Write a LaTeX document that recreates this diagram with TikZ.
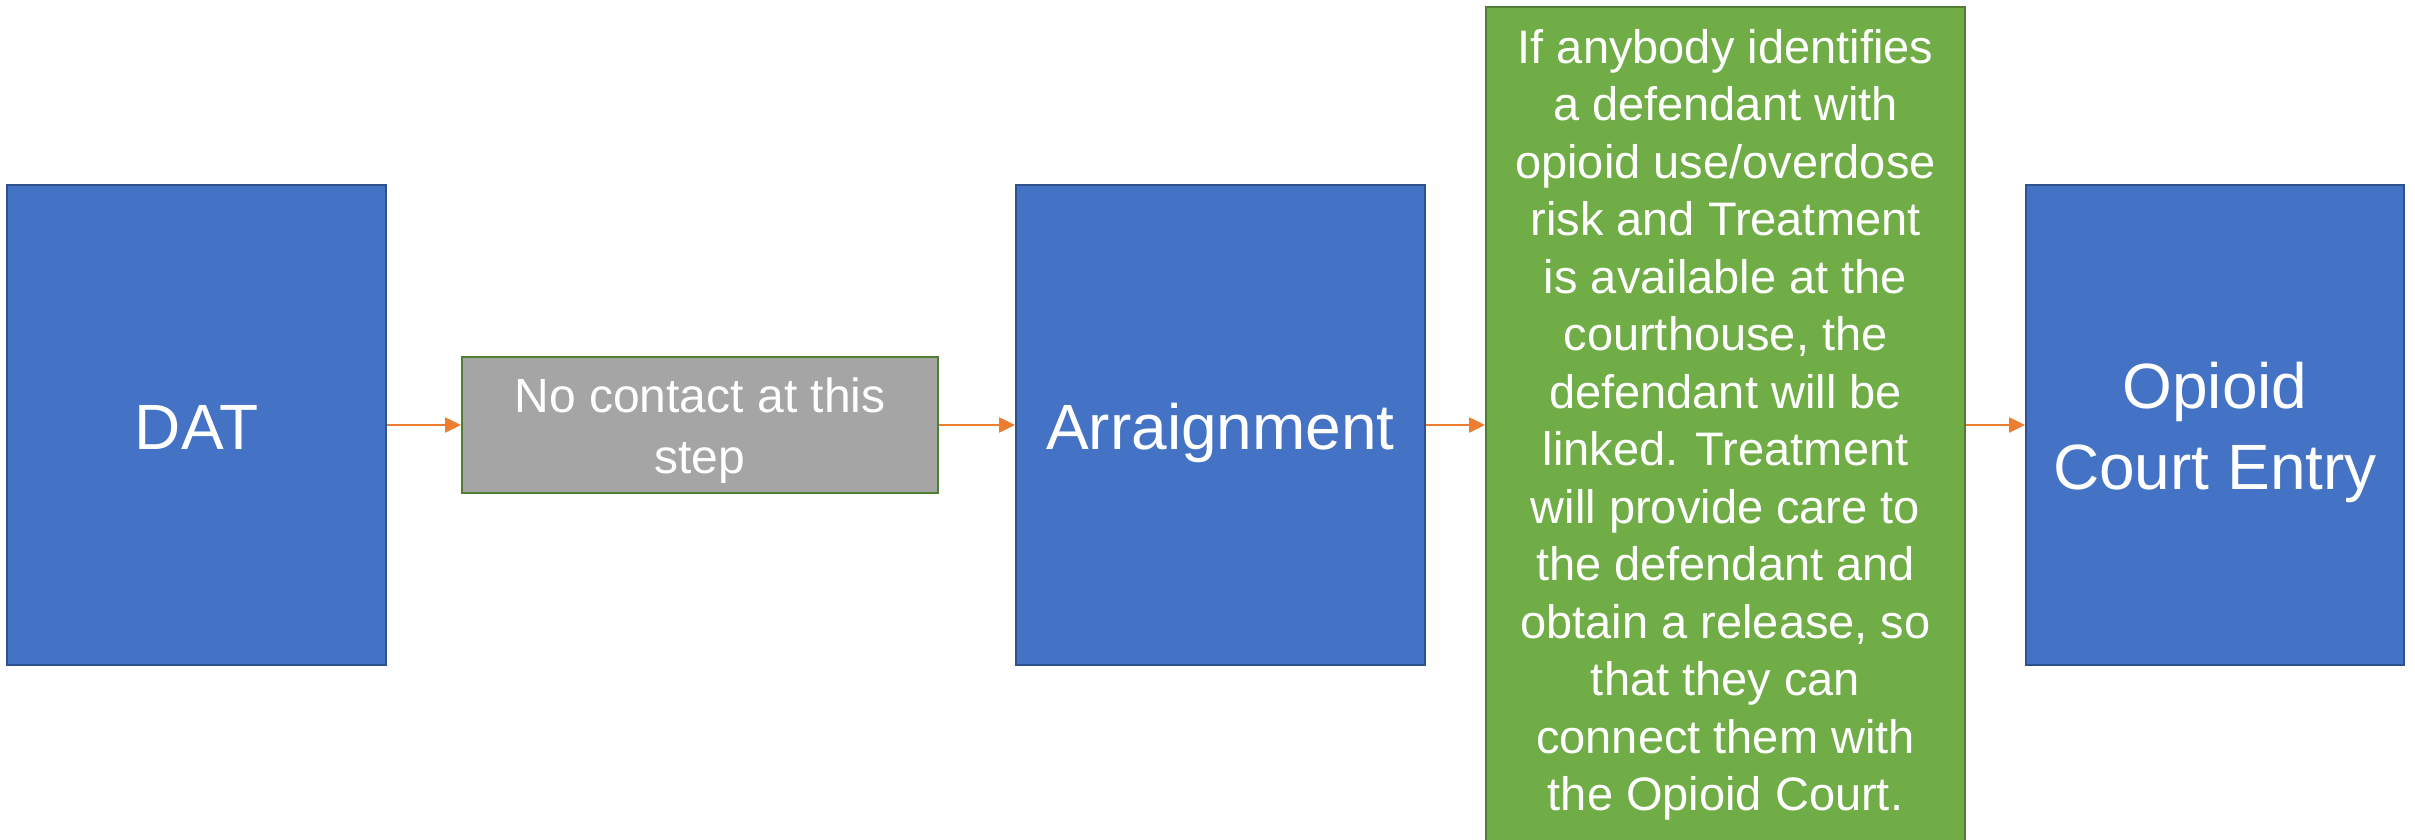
\documentclass[tikz,border=0pt]{standalone}
\usepackage{fontspec}
\setmainfont{Liberation Sans}
\usetikzlibrary{arrows.meta}
\definecolor{stagefill}{HTML}{4472C4}
\definecolor{stageline}{HTML}{2F528F}
\definecolor{skipfill}{HTML}{A5A5A5}
\definecolor{linkfill}{HTML}{70AD47}
\definecolor{linkline}{HTML}{507E32}
\definecolor{flow}{HTML}{ED7D31}
\newcommand{\lstrut}{\rule[-0.25em]{0pt}{1.25em}}
\begin{document}
\begin{tikzpicture}[x=1pt,y=-1pt,
  stage/.style={draw=stageline,fill=stagefill,line width=2pt,text=white,inner sep=0pt,
    minimum height=480pt,align=center,font=\fontsize{64}{74}\selectfont},
  skipbox/.style={draw=linkline,fill=skipfill,line width=2pt,text=white,inner sep=0pt,
    minimum width=476pt,minimum height=136pt,align=center,font=\fontsize{48}{55}\selectfont},
  linkbox/.style={draw=linkline,fill=linkfill,line width=2pt,text=white,inner sep=0pt,
    minimum width=479pt,minimum height=836pt,align=center,font=\fontsize{47}{57.5}\selectfont},
  flowarrow/.style={draw=flow,line width=2.5pt,-{Triangle[length=16pt,width=15pt]}}]
  \useasboundingbox (0,0) rectangle (2415,840);
  \node[stage,minimum width=379pt] at (196.5,425) (DAT) {\lstrut DAT};
  \node[skipbox] at (700,425) (NoContact) {\lstrut No contact at this\\step\lstrut};
  \node[stage,minimum width=409pt] at (1220.5,425) (Arraign) {\lstrut Arraignment};
  \node[linkbox] at (1725.5,425) (Link) {If anybody identifies\\a defendant with\\opioid use/overdose\\risk and Treatment\\is available at the\\courthouse, the\\defendant will be\\linked. Treatment\\will provide care to\\the defendant and\\obtain a release, so\\that they can\\connect them with\\the Opioid Court.};
  \node[stage,minimum width=378pt] at (2215,425) (Entry) {\lstrut Opioid\\Court Entry\lstrut};
  \draw[flowarrow] (DAT) -- (NoContact);
  \draw[flowarrow] (NoContact) -- (Arraign);
  \draw[flowarrow] (Arraign) -- (Link);
  \draw[flowarrow] (Link) -- (Entry);
\end{tikzpicture}
\end{document}
